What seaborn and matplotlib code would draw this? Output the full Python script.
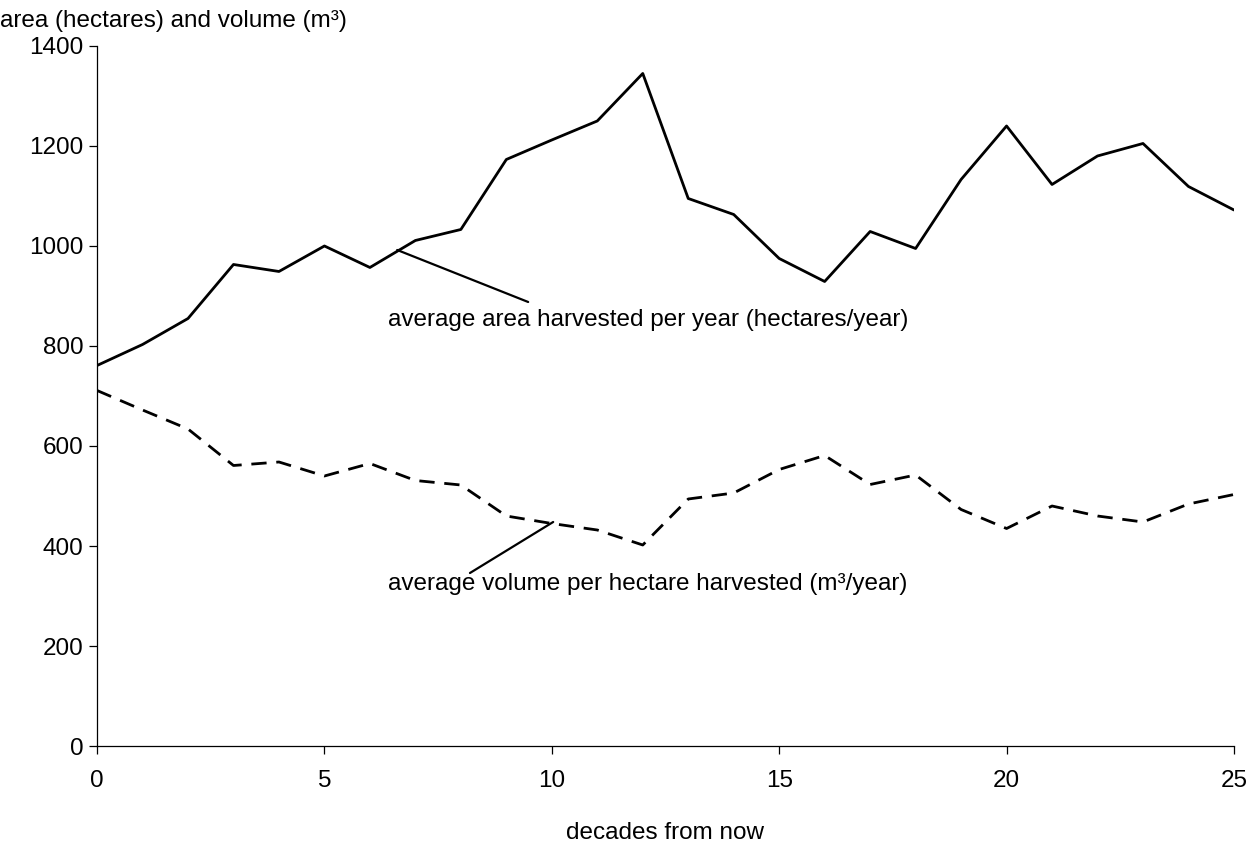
import numpy as np
import pandas as pd
import matplotlib
matplotlib.use("Agg")
import matplotlib.pyplot as plt
import seaborn as sns

# values
decades = list(range(0, 26))
area_per_year = [761, 803, 855, 963, 949, 1000, 957, 1011, 1033, 1173, 1212, 1250, 1345,
                 1095, 1063, 975, 929, 1029, 995, 1133, 1240, 1123, 1180, 1205, 1119, 1072]
volume_per_ha = [711, 672, 634, 561, 568, 540, 565, 531, 522, 460, 445, 432, 402,
                 494, 506, 553, 581, 523, 542, 473, 435, 480, 460, 448, 484, 503]

df = pd.DataFrame({"decade": decades, "area": area_per_year, "volume": volume_per_ha})

sns.set_style("ticks")
plt.rcParams['font.family'] = ['Liberation Sans', 'DejaVu Sans']
plt.rcParams['text.color'] = 'black'
plt.rcParams['xtick.color'] = 'black'
plt.rcParams['ytick.color'] = 'black'
plt.rcParams['axes.labelcolor'] = 'black'
fs = 17.5

fig = plt.figure(figsize=(12.54, 8.42), dpi=100)
ax = fig.add_axes([0.0774, 0.114, 0.9066, 0.8314])

sns.lineplot(data=df, x="decade", y="area", color="black", linewidth=2.0, ax=ax)
sns.lineplot(data=df, x="decade", y="volume", color="black", linewidth=2.0, ax=ax)
ax.lines[-1].set_dashes([5.5, 3.5])

ax.set_xlim(0, 25)
ax.set_ylim(0, 1400)
ax.set_xticks([0, 5, 10, 15, 20, 25])
ax.set_yticks(range(0, 1401, 200))
ax.tick_params(labelsize=fs, length=6, width=0.9, pad=4)
ax.tick_params(axis="x", pad=11)
for s in ["top", "right"]:
    ax.spines[s].set_visible(False)
for s in ["left", "bottom"]:
    ax.spines[s].set_linewidth(0.9)
    ax.spines[s].set_color("black")

ax.set_xlabel("decades from now", fontsize=fs, labelpad=22)
ax.set_ylabel("")
fig.text(0.0, 0.975, "area (hectares) and volume (m³)", fontsize=fs, va="center", ha="left")

# labels with pointer lines
ax.annotate("average area harvested per year (hectares/year)", xy=(6.6, 992), xytext=(6.4, 852),
            fontsize=fs, va="center", ha="left")
ax.plot([6.6, 9.48], [992, 888], color="black", linewidth=1.6)
ax.annotate("average volume per hectare harvested (m³/year)", xy=(10.0, 448), xytext=(6.4, 324),
            fontsize=fs, va="center", ha="left")
ax.plot([8.2, 10.03], [346, 448], color="black", linewidth=1.6)

fig.savefig("out.png", dpi=100)
